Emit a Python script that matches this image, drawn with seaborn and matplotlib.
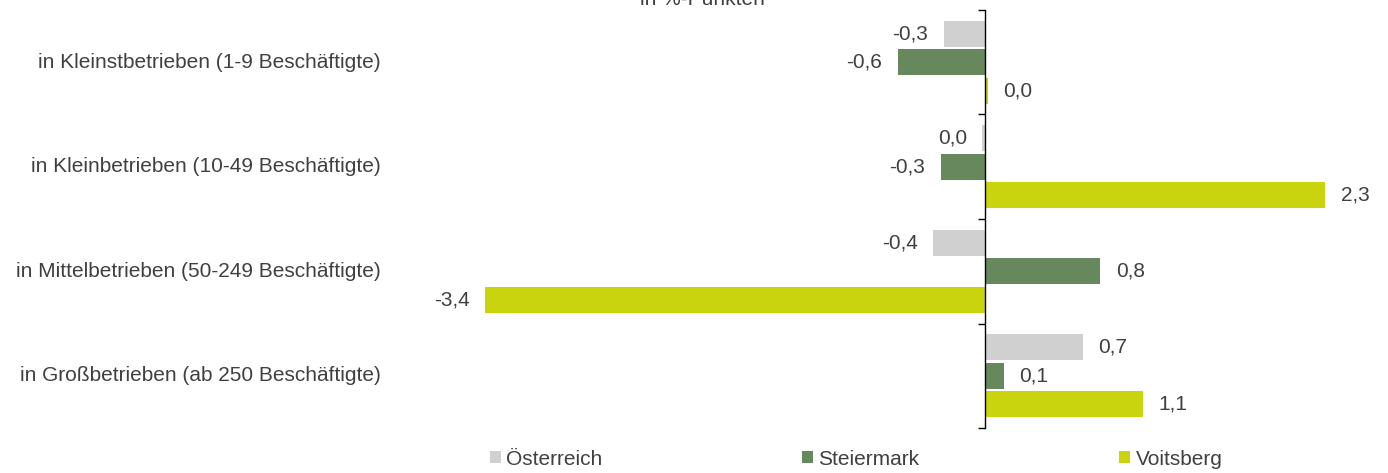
import matplotlib
matplotlib.use("Agg")
import matplotlib.pyplot as plt
import matplotlib.transforms as mtransforms
from matplotlib.patches import Patch
import seaborn as sns
import pandas as pd

categories = [
    "in Kleinstbetrieben (1-9 Beschäftigte)",
    "in Kleinbetrieben (10-49 Beschäftigte)",
    "in Mittelbetrieben (50-249 Beschäftigte)",
    "in Großbetrieben (ab 250 Beschäftigte)",
]
series = ["Österreich", "Steiermark", "Voitsberg"]
oesterreich = [-0.28, -0.02, -0.35, 0.66]
steiermark = [-0.59, -0.30, 0.78, 0.13]
voitsberg = [0.02, 2.30, -3.38, 1.07]
colors = ["#D0D0D0", "#66885C", "#C9D30E"]
title = "in %-Punkten"

rows = []
for s, vals in zip(series, [oesterreich, steiermark, voitsberg]):
    for c, v in zip(categories, vals):
        rows.append({"cat": c, "series": s, "val": v})
df = pd.DataFrame(rows)

sns.set_theme(style="white")
plt.rcParams["font.family"] = ["Liberation Sans", "DejaVu Sans"]
text_color = "#404040"
fs = 15

fig = plt.figure(figsize=(13.88, 4.73), dpi=100)
W, H = 1388, 473
ax = fig.add_axes([400 / W, 1 - 428 / H, (1370 - 400) / W, (428 - 10) / H])

sns.barplot(data=df, y="cat", x="val", hue="series", orient="h",
            palette=colors, order=categories, hue_order=series,
            width=0.82, gap=0.09, linewidth=0, saturation=1, ax=ax,
            legend=False)

zero = 985
scale = 148.0
ax.set_xlim(-(zero - 400) / scale, (1370 - zero) / scale)
ax.set_ylim(len(categories) - 0.5, -0.5)

for cont in ax.containers:
    labels = []
    for b in cont:
        v = b.get_width()
        r = round(v, 1)
        txt = f"{abs(r):.1f}".replace(".", ",")
        if r < 0:
            txt = "-" + txt
        labels.append(txt)
    ax.bar_label(cont, labels=labels, padding=11, fontsize=fs, color=text_color)

for side in ["top", "right", "bottom"]:
    ax.spines[side].set_visible(False)
ax.spines["left"].set_position(("data", 0))
ax.spines["left"].set_color("black")
ax.spines["left"].set_linewidth(1)
ax.set_xticks([])
ax.set_yticks(range(len(categories)))
ax.set_yticklabels([])
ax.tick_params(axis="y", which="major", length=0)
ax.set_yticks([i - 0.5 for i in range(len(categories) + 1)], minor=True)
ax.tick_params(axis="y", which="minor", length=5, width=1, color="black", direction="out", left=True)
ax.set_xlabel("")
ax.set_ylabel("")

trans = mtransforms.blended_transform_factory(fig.transFigure, ax.transData)
for i, c in enumerate(categories):
    ax.text(381 / W, i, c, transform=trans, ha="right", va="center",
            fontsize=fs, color=text_color)

fig.text(702 / W, 1 - 5 / H, title, ha="center", va="baseline", fontsize=fs, color=text_color)

handles = [Patch(facecolor=col, edgecolor="none", label=s) for col, s in zip(colors, series)]
fig.legend(handles=handles, loc="center", bbox_to_anchor=(856 / W, 1 - 459 / H), ncol=3,
           frameon=False, fontsize=fs, handlelength=0.53, handleheight=0.53,
           handletextpad=0.25, columnspacing=9.6, labelcolor=text_color,
           borderpad=0, borderaxespad=0)

fig.savefig("out.png", dpi=100)
